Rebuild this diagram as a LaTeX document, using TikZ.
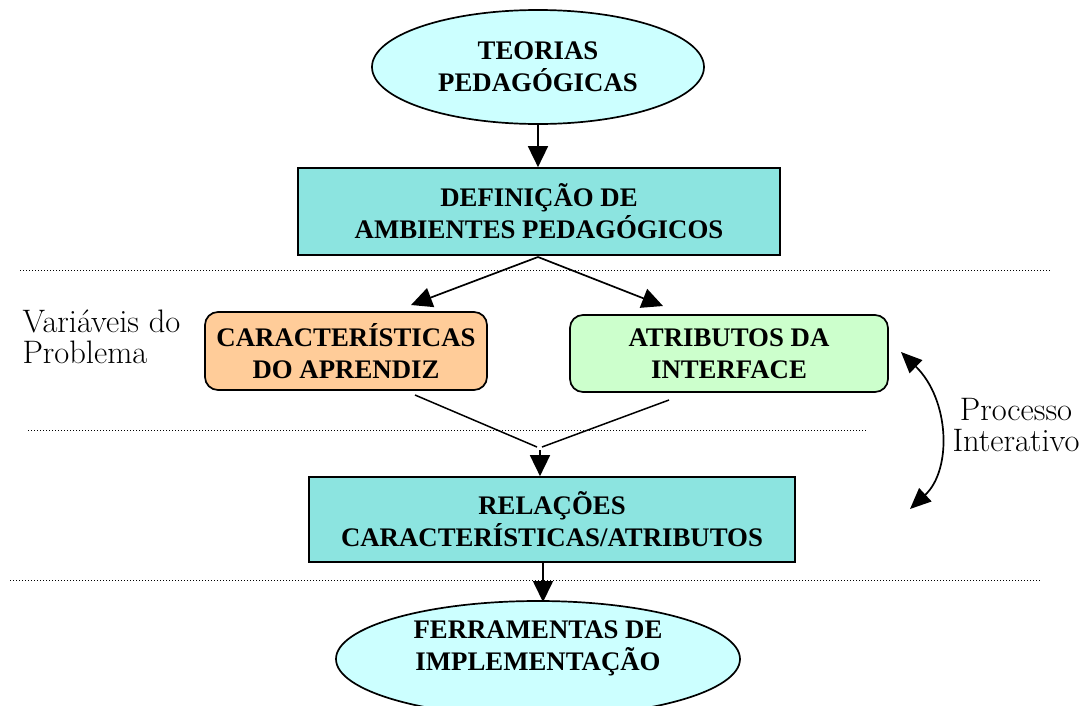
\documentclass[tikz,border=0pt]{standalone}
\usepackage{fontspec}
\newfontfamily\tnr{Liberation Serif}
\usetikzlibrary{shapes.geometric,arrows.meta}
\definecolor{lcyan}{HTML}{CCFFFF}
\definecolor{turq}{HTML}{8CE4E0}
\definecolor{lorange}{HTML}{FFCC99}
\definecolor{lgreen}{HTML}{CCFFCC}
\tikzset{
  bold/.style={font=\tnr\bfseries\fontsize{26.8}{32}\selectfont, align=center, text=black},
  ell/.style={ellipse, draw=black, line width=1.7pt, fill=lcyan, inner sep=0pt},
  sqbox/.style={rectangle, draw=black, line width=1.7pt, fill=turq, inner sep=0pt},
  rbox/.style={rectangle, rounded corners=13pt, draw=black, line width=1.7pt, inner sep=0pt},
  conn/.style={line width=1.7pt, -{Triangle[length=21pt,width=20pt]}},
  plain/.style={line width=1.5pt},
  sep/.style={line width=1pt, dash pattern=on 1pt off 2pt},
  side/.style={font=\fontsize{32.5}{31.5}\selectfont, align=left, text=black}
}
\begin{document}
\begin{tikzpicture}[x=1pt,y=-1pt]
\useasboundingbox (0,0) rectangle (1088,705);
% top ellipse
\node[ell, bold, minimum width=332pt, minimum height=114pt] (teorias) at (538,67) {TEORIAS\\PEDAG\'OGICAS};
% definicao box
\node[sqbox, bold, minimum width=482pt, minimum height=87pt] (defin) at (539,211.5) {DEFINI\c{C}\~AO DE\\AMBIENTES PEDAG\'OGICOS};
% problem variables
\node[rbox, fill=lorange, bold, minimum width=282pt, minimum height=78pt] (caract) at (346,351) {CARACTER\'ISTICAS\\DO APRENDIZ};
\node[rbox, fill=lgreen, bold, minimum width=318pt, minimum height=77pt] (atrib) at (729,353.5) {ATRIBUTOS DA\\INTERFACE};
% relations box
\node[sqbox, bold, minimum width=486pt, minimum height=85pt] (relac) at (552,519.5) {RELA\c{C}\~OES\\CARACTER\'ISTICAS/ATRIBUTOS};
% bottom ellipse
\node[ell, minimum width=404pt, minimum height=116pt] (ferr) at (538,659) {};
\node[bold] (ferrtext) at (538,648) {FERRAMENTAS DE\\IMPLEMENTA\c{C}\~AO};
% side labels
\node[side, anchor=west] (varprob) at (19,337) {Vari\'aveis do\\Problema};
\node[side, align=center] (proc) at (1016,425) {Processo\\Interativo};
% separators
\coordinate (s1a) at (20,270); \coordinate (s1b) at (1050,270);
\coordinate (s2a) at (28,430); \coordinate (s2b) at (866,430);
\coordinate (s3a) at (10,580); \coordinate (s3b) at (1040,580);
\draw[sep] (s1a) -- (s1b);
\draw[sep] (s2a) -- (s2b);
\draw[sep] (s3a) -- (s3b);
% connectors
\draw[conn] (teorias.south) -- (teorias.south |- defin.north);
\coordinate (split) at (538,257);
\coordinate (tipL) at (411,305);
\coordinate (tipR) at (663,306);
\draw[conn] (split) -- (tipL);
\draw[conn] (split) -- (tipR);
\coordinate (vL) at (415,395);
\coordinate (vR) at (669,400);
\coordinate (joinL) at (537,447);
\coordinate (joinR) at (542,447);
\coordinate (join) at (540,450);
\draw[plain] (vL) -- (joinL);
\draw[plain] (vR) -- (joinR);
\draw[conn] (join) -- (join |- relac.north);
\draw[conn] (relac.south -| 543,0) -- (543,602);
% iterative process arrow
\coordinate (itop) at (901,352);
\coordinate (ibot) at (910,509);
\draw[line width=1.7pt, {Triangle[length=21pt,width=18pt]}-{Triangle[length=21pt,width=18pt]}] (itop) .. controls (950,400) and (952,470) .. (ibot);
\end{tikzpicture}
\end{document}
